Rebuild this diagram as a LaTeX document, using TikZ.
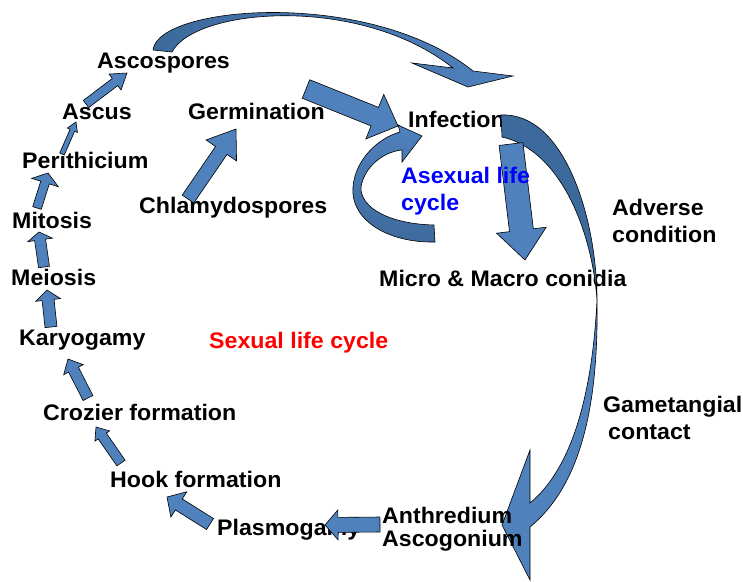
\documentclass[tikz,border=0pt]{standalone}
\usepackage{fontspec}
\setmainfont{Liberation Sans}[FakeStretch=1.03]
\usetikzlibrary{calc}
\definecolor{arrowblue}{HTML}{4F81BD}
\definecolor{arrowdark}{HTML}{3D6A9C}
\definecolor{txtblue}{HTML}{0000FF}
\definecolor{txtred}{HTML}{FF0000}
\tikzset{
  lbl/.style={inner sep=0pt, anchor=base west, font=\fontsize{22.5}{27}\selectfont\bfseries},
  lbltwo/.style={inner sep=0pt, anchor=north west, align=left, font=\fontsize{22.5}{27}\selectfont\bfseries},
  blockarrow/.style={draw=black, line width=0.6pt, fill=arrowblue, line join=miter},
  curvearr/.style={draw=black, line width=0.6pt}
}
\newcommand{\blockarr}[5]{%
  \coordinate (hb) at ($(#2)!#5pt!(#1)$);
  \draw[blockarrow] ($(#1)!#3pt/2!90:(#2)$) -- ($(hb)!#3pt/2!90:(#2)$) -- ($(hb)!#4pt/2!90:(#2)$) -- (#2) -- ($(hb)!#4pt/2!-90:(#2)$) -- ($(hb)!#3pt/2!-90:(#2)$) -- ($(#1)!#3pt/2!-90:(#2)$) -- cycle;}
\begin{document}
\begin{tikzpicture}[x=1pt,y=-1pt]
\fill[white] (0,0) rectangle (743,581);
\useasboundingbox (0,0) rectangle (743,581);
% labels (under the arrows)
\node[lbl] (ascospores) at (97,68) {Ascospores};
\node[lbl] (ascus) at (62,119) {Ascus};
\node[lbl] (germ) at (188,119) {Germination};
\node[lbl] (peri) at (22,168) {Perithicium};
\node[lbl] (mito) at (12,228) {Mitosis};
\node[lbl] (chlamy) at (139,213) {Chlamydospores};
\node[lbl] (meio) at (11,285) {Meiosis};
\node[lbl] (infect) at (408,127) {Infection};
\node[lbltwo] (adverse) at (612,198.6) {Adverse\\condition};
\node[lbl] (micro) at (379,286) {Micro \& Macro conidia};
\node[lbl] (karyo) at (19,345) {Karyogamy};
\node[lbl, text=txtred] (sexual) at (209,348) {Sexual life cycle};
\node[lbl] (crozier) at (43,420) {Crozier formation};
\node[lbltwo] (gamet) at (603,395.5) {Gametangial\\\hspace*{5pt}contact};
\node[lbl] (hook) at (110,487) {Hook formation};
\node[lbl] (plasmo) at (217,535) {Plasmogamy};
% big curved arrow Infection -> Ascogonium
\path[curvearr, fill=arrowdark] (501,115) .. controls (565,112) and (597,220) .. (597,300)
  .. controls (592,230) and (560,150) .. (502,137) -- cycle;
\path[curvearr, fill=arrowblue] (597,300) .. controls (599,420) and (575,490) .. (530,527)
  -- (530,580) -- (502,525) -- (530,450) -- (530,503)
  .. controls (570,470) and (592,400) .. (597,300) -- cycle;
% top curved arrow Ascospores -> Infection
\path[curvearr, left color=arrowdark, right color=arrowblue]
  (153,50) .. controls (158,5) and (370,-12) .. (473,71) -- (513,76) -- (468,87) -- (412,63) -- (453,68)
  .. controls (360,-6) and (195,8) .. (172,52) -- cycle;
% straight block arrows
\coordinate (p1t) at (86,104);   \coordinate (p1h) at (127,73);
\coordinate (p2t) at (62,154);   \coordinate (p2h) at (76,122);
\coordinate (p3t) at (37,208);   \coordinate (p3h) at (48,173);
\coordinate (p4t) at (44,267);   \coordinate (p4h) at (39,232);
\coordinate (p5t) at (51,327);   \coordinate (p5h) at (47,290);
\coordinate (p6t) at (88,398);   \coordinate (p6h) at (68,359);
\coordinate (p7t) at (121,463);  \coordinate (p7h) at (96,427);
\coordinate (p8t) at (210,524);  \coordinate (p8h) at (167,497);
\coordinate (p9t) at (380,524.5);\coordinate (p9h) at (325,525);
\coordinate (p10t) at (188,199); \coordinate (p10h) at (236,129);
\coordinate (p11t) at (306,89);  \coordinate (p11h) at (398,126);
\coordinate (p12t) at (511,144); \coordinate (p12h) at (525,260);
\blockarr{p1t}{p1h}{9}{20}{15}
\blockarr{p2t}{p2h}{5}{11}{9}
\blockarr{p3t}{p3h}{9}{28}{10}
\blockarr{p4t}{p4h}{11}{25}{8}
\blockarr{p5t}{p5h}{12}{25}{10}
\blockarr{p6t}{p6h}{11}{22}{12}
\blockarr{p7t}{p7h}{10}{18}{11}
\blockarr{p8t}{p8h}{13}{30}{14}
\blockarr{p9t}{p9h}{15}{30}{13}
\blockarr{p10t}{p10h}{14}{37}{26}
\blockarr{p11t}{p11h}{20}{48}{25}
\blockarr{p12t}{p12h}{24}{50}{30}
% asexual loop arrow
\path[curvearr, top color=arrowblue, bottom color=arrowdark]
  (435,242) .. controls (385,243) and (350,218) .. (353,187)
  .. controls (355,160) and (378,138) .. (400,132) -- (398,125) -- (422,136) -- (402,162) -- (402,150)
  .. controls (382,152) and (364,168) .. (361,187)
  .. controls (360,208) and (390,224) .. (434,225) -- cycle;
% labels above the arrows
\node[lbltwo, text=txtblue] (asex) at (401,166.6) {Asexual life\\cycle};
\node[lbl] (anth) at (382,523) {Anthredium};
\node[lbl] (ascog) at (382,546) {Ascogonium};
\end{tikzpicture}
\end{document}
